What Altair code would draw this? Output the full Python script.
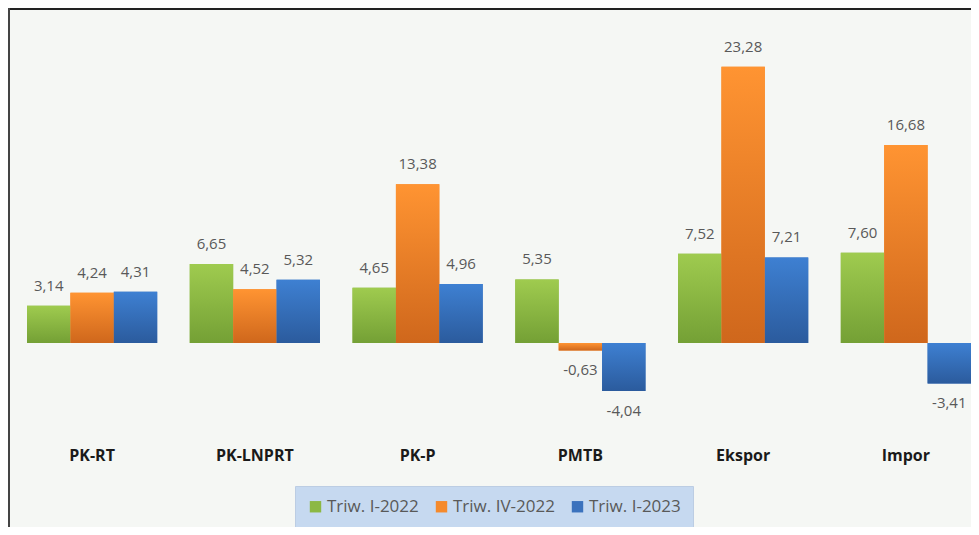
import altair as alt
import pandas as pd

categories = ["PK-RT", "PK-LNPRT", "PK-P", "PMTB", "Ekspor", "Impor"]
series = ["Triw. I-2022", "Triw. IV-2022", "Triw. I-2023"]
vals_2022_1 = [3.14, 6.65, 4.65, 5.35, 7.52, 7.60]
vals_2022_4 = [4.24, 4.52, 13.38, -0.63, 23.28, 16.68]
vals_2023_1 = [4.31, 5.32, 4.96, -4.04, 7.21, -3.41]

rows = []
for s, vals in zip(series, [vals_2022_1, vals_2022_4, vals_2023_1]):
    for c, v in zip(categories, vals):
        rows.append({"cat": c, "series": s, "value": v})
df = pd.DataFrame(rows)
cat_df = pd.DataFrame({"cat": categories})

W, H = 963, 519
flat_colors = ["#8cb844", "#f58a2c", "#3b72bd"]
grad_stops = [("#9fcb4f", "#74a035"), ("#ff9432", "#cf671c"), ("#3e80d2", "#2b5b9d")]

font = "Open Sans"

x_enc = alt.X("cat:N", sort=categories,
              scale=alt.Scale(domain=categories, range=[19, 963], paddingInner=0.2, paddingOuter=0),
              axis=None)
xo_enc = alt.XOffset("series:N", sort=series,
                     scale=alt.Scale(domain=series, paddingInner=0, paddingOuter=0))
y_enc = alt.Y("value:Q", scale=alt.Scale(domain=[-15.5, 28.22], nice=False, zero=False), axis=None)

base = alt.Chart(df).encode(x=x_enc, xOffset=xo_enc, y=y_enc, y2=alt.datum(0))

legend_bars = base.mark_bar().encode(
    color=alt.Color("series:N", sort=series,
                    scale=alt.Scale(domain=series, range=flat_colors),
                    legend=alt.Legend(
                        orient="none", legendX=287, legendY=478, direction="horizontal",
                        title=None, fillColor="#c6d9f0", strokeColor="#bccde3",
                        padding=12, symbolType="square", symbolSize=130,
                        symbolStrokeWidth=0, labelFont="Open Sans", labelFontSize=17,
                        labelColor="#595959", columnPadding=14, labelOffset=3,
                    ))
)

layers = [legend_bars]
for s, (c1, c2) in zip(series, grad_stops):
    grad = alt.Gradient(gradient="linear", x1=0, x2=0, y1=0, y2=1,
                        stops=[alt.GradientStop(color=c1, offset=0),
                               alt.GradientStop(color=c2, offset=1)])
    layers.append(base.transform_filter(alt.datum.series == s).mark_bar(fill=grad))

lbl = alt.Chart(df).transform_calculate(
    label="(datum.value < 0 ? '-' : '') + replace(format(abs(datum.value), '.2f'), '.', ',')"
).encode(x=x_enc, xOffset=xo_enc, y=y_enc, text="label:N")

pos_lbl = lbl.transform_filter(alt.datum.value >= 0).mark_text(
    dy=-20, baseline="middle", font=font, fontSize=15, color="#595959")
neg_lbl = lbl.transform_filter(alt.datum.value < 0).mark_text(
    dy=20, baseline="middle", font=font, fontSize=15, color="#595959")

cat_lbl = alt.Chart(cat_df).mark_text(
    font=font, fontSize=16, fontWeight="bold", color="#1a1a1a", baseline="middle"
).encode(x=x_enc, y=alt.value(448), text="cat:N")

top_border = alt.Chart(cat_df).mark_rule(color="#222222", strokeWidth=2).encode(
    x=alt.value(0), x2=alt.value(W), y=alt.value(1))
left_border = alt.Chart(cat_df).mark_rule(color="#444444", strokeWidth=2).encode(
    x=alt.value(1), y=alt.value(0), y2=alt.value(H))

chart = alt.layer(*layers, pos_lbl, neg_lbl, cat_lbl, top_border, left_border).properties(
    width=W, height=H, padding=0, autosize="none", background="#f5f7f4"
).configure_view(stroke=None)

chart.save("out.html", embed_options={"renderer": "svg", "actions": False})
